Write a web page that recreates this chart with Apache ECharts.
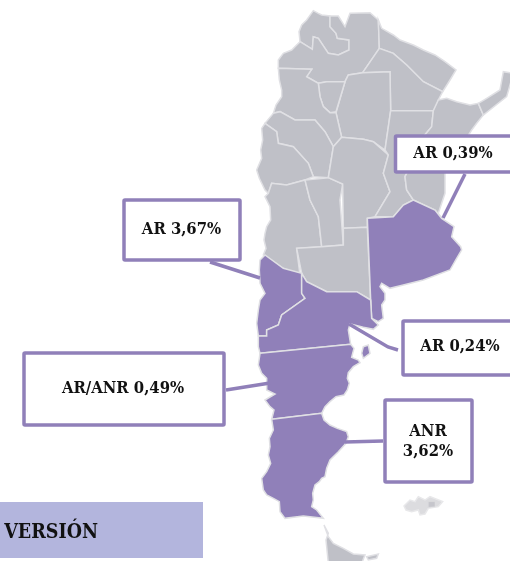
<!DOCTYPE html>
<html>
<head>
<meta charset="utf-8">
<script src="https://cdn.jsdelivr.net/npm/echarts@6/dist/echarts.min.js"></script>
<style>
  html,body{margin:0;padding:0;background:#fff;}
  #chart{width:510px;height:561px;}
</style>
</head>
<body>
<div id="chart"></div>
<script>
// province outlines, in map units (3 units = 1 px)
const jujuy = [[150,125],[147,95],[155,75],[170,60],[190,32],[205,40],[215,45],[240,48],[240,80],[258,100],[262,115],[297,120],[297,150],[265,165],[235,160],[205,115],[190,110],[187,148]];
const salta = [[150,125],[187,148],[190,110],[205,115],[235,160],[265,165],[297,150],[297,120],[262,115],[258,100],[240,80],[240,48],[265,48],[285,80],[300,40],[360,38],[385,60],[388,145],[338,218],[295,225],[285,245],[230,245],[205,250],[170,230],[185,208],[85,205],[85,180],[100,160],[125,150]];
const formosa = [[385,60],[395,85],[430,105],[450,120],[490,135],[520,150],[555,165],[585,185],[618,210],[600,240],[578,275],[520,245],[470,195],[430,160],[388,145]];
const chaco = [[388,145],[338,218],[420,215],[422,332],[555,332],[565,300],[578,275],[520,245],[470,195],[430,160]];
const santiago = [[295,225],[338,218],[420,215],[422,332],[405,450],[370,425],[340,418],[275,412],[258,338],[285,245]];
const tucuman = [[205,250],[230,245],[285,245],[258,335],[240,338],[220,320],[210,290]];
const catamarca = [[85,205],[185,208],[170,230],[205,250],[210,290],[220,320],[240,338],[258,338],[275,412],[250,440],[225,395],[195,360],[135,360],[90,335],[70,340],[78,315],[95,290],[95,270],[88,240]];
const laRioja = [[70,340],[90,335],[135,360],[195,360],[225,395],[250,440],[235,533],[190,530],[175,490],[130,440],[85,430],[80,395],[45,370]];
const sanJuan = [[45,370],[80,395],[85,430],[130,440],[175,490],[190,530],[165,540],[110,555],[65,550],[55,580],[45,570],[28,535],[20,510],[35,475],[32,450],[38,420],[35,385]];
const mendoza = [[55,580],[65,550],[110,555],[165,540],[180,600],[205,650],[215,740],[140,745],[150,825],[100,805],[40,765],[48,745],[42,720],[45,700],[50,680],[62,660],[60,620],[45,590]];
const sanLuis = [[165,540],[235,533],[278,552],[270,600],[280,735],[215,740],[205,650],[180,600]];
const cordoba = [[235,533],[250,440],[275,412],[340,418],[370,425],[415,465],[400,520],[420,575],[375,650],[352,655],[352,682],[280,685],[278,552]];
const laPampa = [[140,745],[215,740],[280,735],[280,685],[352,682],[362,900],[320,875],[230,875],[170,845],[155,820]];
const santaFe = [[422,332],[550,332],[545,380],[520,410],[480,500],[465,530],[470,570],[490,600],[460,615],[430,650],[375,650],[420,575],[400,520],[415,465],[405,450]];
const entreRios = [[480,500],[585,500],[585,580],[575,610],[565,640],[575,655],[555,630],[490,600],[470,570],[465,530]];
const corrientes = [[550,332],[565,300],[590,295],[620,305],[660,315],[685,310],[700,345],[680,370],[665,390],[640,430],[585,510],[480,500],[520,410],[545,380]];
const misiones = [[685,310],[710,295],[750,270],[760,215],[790,220],[770,290],[700,345]];
const buenosAires = [[352,655],[430,650],[460,615],[490,600],[555,630],[575,655],[612,680],[605,710],[632,740],[635,750],[620,775],[600,810],[520,840],[460,855],[420,865],[395,850],[390,860],[405,880],[405,900],[395,915],[400,955],[385,965],[365,955],[362,900]];
const neuquen = [[45,765],[30,780],[28,810],[30,850],[45,880],[30,900],[25,930],[20,970],[25,1008],[50,1008],[50,990],[85,975],[95,945],[165,895],[155,880],[155,820],[100,805]];
const rioNegro = [[155,820],[170,845],[230,875],[320,875],[362,900],[365,955],[385,975],[370,988],[340,982],[300,972],[295,990],[302,1033],[30,1060],[25,1040],[25,1008],[50,1008],[50,990],[85,975],[95,945],[165,895],[155,880]];
const chubut = [[30,1060],[302,1033],[312,1045],[308,1060],[305,1072],[325,1080],[330,1088],[310,1100],[295,1118],[292,1135],[298,1150],[292,1170],[282,1185],[258,1190],[240,1205],[225,1220],[215,1240],[65,1258],[72,1230],[60,1220],[45,1200],[75,1182],[50,1170],[50,1135],[35,1120],[25,1095]];
const valdes = [[340,1040],[355,1035],[360,1060],[340,1075],[335,1060]];
const santaCruz = [[65,1258],[215,1240],[222,1260],[240,1275],[262,1285],[290,1295],[295,1310],[288,1330],[265,1355],[240,1380],[230,1405],[225,1430],[215,1435],[208,1445],[195,1455],[188,1480],[190,1500],[185,1520],[200,1530],[220,1555],[160,1548],[105,1555],[90,1535],[88,1505],[70,1495],[50,1485],[40,1470],[35,1435],[50,1415],[62,1390],[55,1365],[60,1340],[58,1315],[70,1290]];
const tierraDelFuego = [[222,1575],[235,1600],[228,1620],[235,1690],[335,1690],[345,1665],[310,1662],[280,1645],[250,1630],[235,1610]];
const isletaSur = [[350,1670],[385,1662],[380,1675],[355,1680]];
const malvinas = [[462,1518],[480,1500],[495,1505],[505,1490],[525,1500],[540,1490],[578,1505],[565,1520],[535,1525],[525,1542],[510,1545],[505,1530],[485,1535],[468,1530]];
const malvinasSpot = [[535,1505],[555,1505],[555,1520],[535,1522]];

const provinces = {
  'Jujuy': jujuy, 'Salta': salta, 'Formosa': formosa, 'Chaco': chaco,
  'Santiago del Estero': santiago, 'Tucumán': tucuman, 'Catamarca': catamarca,
  'La Rioja': laRioja, 'San Juan': sanJuan, 'Mendoza': mendoza, 'San Luis': sanLuis,
  'Córdoba': cordoba, 'La Pampa': laPampa, 'Santa Fe': santaFe, 'Entre Ríos': entreRios,
  'Corrientes': corrientes, 'Misiones': misiones, 'Buenos Aires': buenosAires,
  'Neuquén': neuquen, 'Río Negro': rioNegro, 'Chubut': chubut, 'Península Valdés': valdes,
  'Santa Cruz': santaCruz, 'Tierra del Fuego': tierraDelFuego, 'Isleta': isletaSur,
  'Malvinas': malvinas, 'Malvinas centro': malvinasSpot
};
const highlighted = ['Buenos Aires','Neuquén','Río Negro','Chubut','Península Valdés','Santa Cruz'];
const labelAr039 = 'AR 0,39%';
const labelAr367 = 'AR 3,67%';
const labelArAnr = 'AR/ANR 0,49%';
const labelAr024 = 'AR 0,24%';
const labelAnr = 'ANR\n3,62%';
const bannerText = 'VERSIÓN';

const PURPLE = '#9080b9';
const GREY = '#bfc0c7';
const EDGE = '#e0e0e4';
const FONT = 'DejaVu Serif Condensed';

const geoJson = {
  type: 'FeatureCollection',
  features: Object.keys(provinces).map(function (name) {
    const ring = provinces[name].concat([provinces[name][0]]);
    return {type:'Feature', properties:{name:name}, geometry:{type:'Polygon', coordinates:[ring]}};
  })
};
echarts.registerMap('argentina', geoJson);

function box(x,y,w,h){
  return {type:'rect', z:20, shape:{x:x,y:y,width:w,height:h,r:1}, style:{fill:'#fff',stroke:PURPLE,lineWidth:3.5}};
}
function leader(points){
  return {type:'polyline', z:19, shape:{points:points}, style:{fill:null,stroke:PURPLE,lineWidth:3.5}};
}
function label(text,x,y){
  return {type:'text', z:21, x:x, y:y, style:{text:text,font:'bold 16.5px "'+FONT+'"',fill:'#111',align:'center',verticalAlign:'middle',lineHeight:20}};
}

const chart = echarts.init(document.getElementById('chart'));
chart.setOption({
  animation:false,
  backgroundColor:'#fff',
  geo:{
    map:'argentina',
    projection:{project:function(p){return p;},unproject:function(p){return p;}},
    boundingCoords:[[-750,0],[780,1683]],
    left:0,top:0,width:510,height:561,
    silent:true,
    roam:false,
    label:{show:false},
    itemStyle:{areaColor:GREY,borderColor:EDGE,borderWidth:1.5},
    regions:highlighted.map(function(n){return {name:n,itemStyle:{areaColor:PURPLE}};})
      .concat([
        {name:'Malvinas',itemStyle:{areaColor:'#dcdcdf',borderColor:'#e8e8ea'}},
        {name:'Malvinas centro',itemStyle:{areaColor:'#c6c6cc',borderColor:'#dcdcdf',borderWidth:0.5}}
      ]),
    emphasis:{disabled:true},
    select:{disabled:true}
  },
  graphic:{elements:[
    leader([[465,174],[443,218]]),
    leader([[210,262],[260,278]]),
    leader([[226,390],[270,383]]),
    leader([[349,324],[388,347],[398,350]]),
    leader([[345,442],[383,441]]),
    box(395.5,136,120,36),
    box(124,200,116,60),
    box(24,353,200,72),
    box(403,321,120,54),
    box(385,400,87,82),
    label(labelAr039,453,154),
    label(labelAr367,181.5,230),
    label(labelArAnr,123,389),
    label(labelAr024,460,347),
    label(labelAnr,428,442),
    {type:'rect',z:18,shape:{x:0,y:502,width:203,height:56},style:{fill:'#b3b5dd'}},
    {type:'text',z:21,x:98,y:533,style:{text:bannerText,font:'bold 19.5px "'+FONT+'"',fill:'#111',align:'right',verticalAlign:'middle'}}
  ]}
});
</script>
</body>
</html>
